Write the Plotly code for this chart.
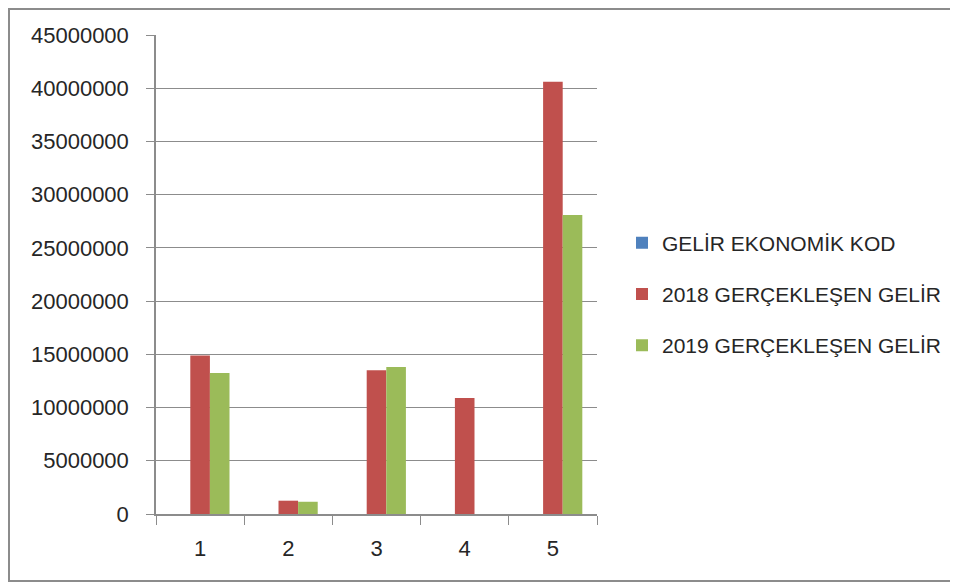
import plotly.graph_objects as go

categories = ["1", "2", "3", "4", "5"]
kod = [1, 2, 3, 4, 5]
gelir_2018 = [14900000, 1250000, 13500000, 10900000, 40600000]
gelir_2019 = [13250000, 1150000, 13800000, None, 28100000]
y_ticks = list(range(0, 45000001, 5000000))

BLUE, RED, GREEN = "#4F81BD", "#C0504D", "#9BBB59"
FONT = "Liberation Sans, Arial, sans-serif"

fig = go.Figure()
fig.add_trace(go.Bar(x=categories, y=kod, name="GELİR EKONOMİK KOD",
                     marker_color=BLUE, legendgroup="a"))
fig.add_trace(go.Bar(x=categories, y=gelir_2018, name="2018 GERÇEKLEŞEN GELİR",
                     marker_color=RED, legendgroup="b"))
fig.add_trace(go.Bar(x=categories, y=gelir_2019, name="2019 GERÇEKLEŞEN GELİR",
                     marker_color=GREEN, legendgroup="c"))
fig.update_traces(marker_line_width=0)

# the page body has an 8px margin, so window pixels are shifted by OFF
OFF = 8
W, H = 958 - OFF, 583 - OFF
L, R, T, B = 156 - OFF, 597 - OFF, 35 - OFF, 514 - OFF
pw, ph = R - L, B - T

def px_x(p):
    return (p - OFF - L) / pw

def px_y(p):
    return (B - (p - OFF)) / ph

fig.update_layout(
    width=W, height=H,
    margin=dict(l=L, r=W - R, t=T, b=H - B, pad=0),
    paper_bgcolor="white", plot_bgcolor="white",
    barmode="group", bargap=0.333, bargroupgap=0,
    font=dict(family=FONT, size=21, color="#262626"),
    legend=dict(x=px_x(622), y=px_y(294), xanchor="left", yanchor="middle",
                font=dict(size=21, color="#262626"), tracegroupgap=21,
                traceorder="grouped", bgcolor="rgba(0,0,0,0)"),
    showlegend=True,
    shapes=[dict(type="rect", xref="paper", yref="paper",
                 x0=px_x(9), x1=px_x(951), y0=px_y(581), y1=px_y(9),
                 line=dict(color="#8c8c8c", width=2), layer="below")],
)
fig.update_xaxes(type="category", showgrid=False, showline=True, linecolor="#8c8c8c",
                 linewidth=1.5, ticks="outside", tickson="boundaries", ticklen=9,
                 tickcolor="#8c8c8c", tickfont=dict(size=22), ticklabelstandoff=14)
fig.update_yaxes(range=[0, 45000000], tickvals=y_ticks, tickformat="d",
                 showgrid=True, gridcolor="#8c8c8c", gridwidth=1.2,
                 showline=True, linecolor="#8c8c8c", linewidth=1.5,
                 ticks="outside", ticklen=8, tickcolor="#8c8c8c",
                 tickfont=dict(size=22), ticklabelstandoff=13, zeroline=False)

fig.write_html("out.html")
